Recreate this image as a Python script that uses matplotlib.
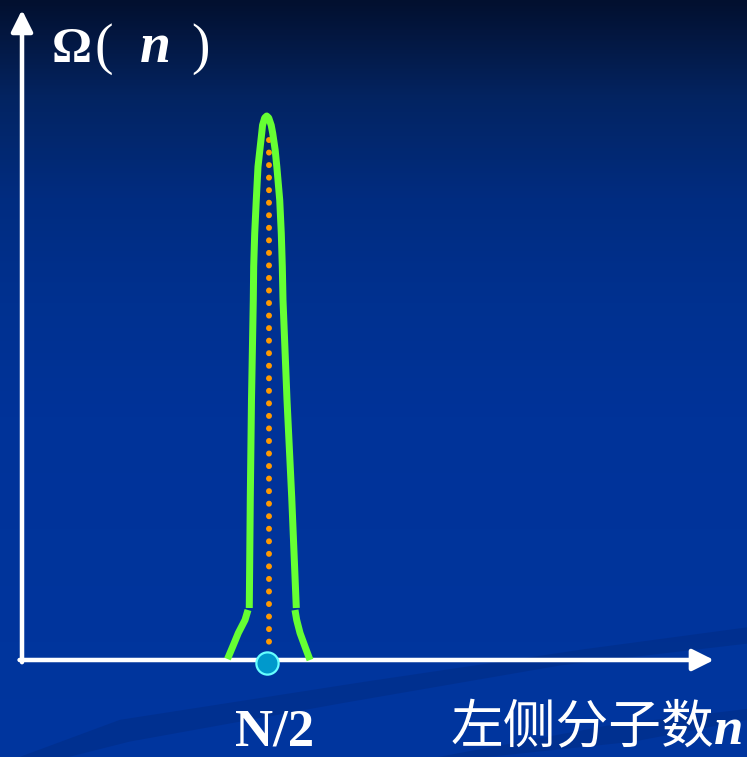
import numpy as np
import matplotlib
matplotlib.use('Agg')
import matplotlib.pyplot as plt
from matplotlib.colors import LinearSegmentedColormap
from matplotlib.patches import Polygon

# curve readings: n in units of N/100, omega normalised to peak = 100
n_peak = [46.44, 46.65, 46.89, 47.26, 47.34, 47.55, 47.87, 48.22, 48.60, 48.98,
          49.15, 49.59, 50.0, 50.41, 50.92, 51.23, 51.73, 52.07, 52.66, 52.98,
          53.19, 53.33, 54.15, 55.11, 56.05]
omega_peak = [9.56, 29.96, 47.79, 66.18, 72.30, 78.44, 84.56, 90.68, 93.75, 96.82,
              98.30, 99.65, 100.0, 99.65, 98.30, 96.82, 93.75, 90.68, 84.56, 78.44,
              72.30, 66.18, 47.79, 29.96, 9.56]
n_left_tail = [46.18, 45.57, 44.20, 43.05, 41.99]
omega_left_tail = [9.19, 7.35, 4.96, 2.45, 0.18]
n_right_tail = [55.78, 56.13, 56.81, 57.83, 58.85]
omega_right_tail = [9.19, 7.35, 4.96, 2.45, 0.0]

n_half = 50.0
n_dotted = 50.5
dotted_range = [95.6, 1.8]
x_axis_end = 141.4
y_axis_end = 119.5

x_label = '左侧分子数'
half_label = 'N/2'

W, H = 747, 757
PX_X0, PX_Y0 = 22.0, 660.0      # pixel of the origin
SX, SY = 4.894, 5.44             # pixels per data unit

fig = plt.figure(figsize=(W / 100, H / 100), dpi=100)
ax = fig.add_axes([0, 0, 1, 1])
ax.set_xlim(-PX_X0 / SX, (W - PX_X0) / SX)
ax.set_ylim(-(H - PX_Y0) / SY, PX_Y0 / SY)
ax.axis('off')
xl = ax.get_xlim()
yl = ax.get_ylim()

# background gradient, dark at the top
cmap = LinearSegmentedColormap.from_list(
    'bg', [(0.0, '#02102F'), (0.07, '#041B4A'), (0.13, '#032462'),
           (0.26, '#012C80'), (0.4, '#003190'), (0.55, '#003399'),
           (1.0, '#00369F')])
grad = np.linspace(0, 1, 256).reshape(-1, 1)
ax.imshow(grad, cmap=cmap, aspect='auto', extent=[xl[0], xl[1], yl[0], yl[1]],
          origin='upper', zorder=0)

# faint swooshes at the bottom
sw = Polygon([(xl[0] + 4, yl[0]), (20, -11), (70, -4), (115, 2), (xl[1], 6),
              (xl[1], 3), (110, -1), (65, -8), (22, -15), (xl[0] + 14, yl[0])],
             closed=True, facecolor='#002A80', alpha=0.45, edgecolor='none', zorder=1)
ax.add_patch(sw)
sw2 = Polygon([(85, yl[0]), (120, -12), (xl[1], -9), (xl[1], -11), (125, -15), (95, yl[0])],
              closed=True, facecolor='#002A80', alpha=0.45, edgecolor='none', zorder=1)
ax.add_patch(sw2)

px = 72 / 100  # points per pixel

# axes arrows
arrow = dict(arrowstyle='-|>,head_length=1.3,head_width=0.65', color='white',
             lw=4.5 * px, mutation_scale=10, shrinkA=0, shrinkB=0)
ax.annotate('', xy=(x_axis_end, 0), xytext=(-0.5, 0), arrowprops=arrow, zorder=3)
ax.annotate('', xy=(0, y_axis_end), xytext=(0, -0.4), arrowprops=arrow, zorder=3)

# dotted centre line
ax.plot([n_dotted, n_dotted], dotted_range, color='#FF9900', lw=6 * px,
        linestyle=(0, (0.01, 2.08)), dash_capstyle='round', zorder=4)

green = '#66FF33'
ax.plot(n_peak, omega_peak, color=green, lw=7 * px, solid_joinstyle='round',
        solid_capstyle='butt', zorder=5)
ax.plot(n_left_tail, omega_left_tail, color=green, lw=7 * px,
        solid_joinstyle='round', solid_capstyle='butt', zorder=5)
ax.plot(n_right_tail, omega_right_tail, color=green, lw=7 * px,
        solid_joinstyle='round', solid_capstyle='butt', zorder=5)

ax.plot([n_half], [-0.5], 'o', ms=16, mfc='#0099CC', mec='#66FFFF', mew=1.6, zorder=6)


def place(x, y, s, **kw):
    fig.text(x / W, 1 - y / H, s, color='white', va='baseline', **kw)


serif = 'Liberation Serif'
place(52, 62, 'Ω', fontsize=36, family=serif, weight='bold')
place(94, 63, '(', fontsize=40, family=serif)
place(140, 62, 'n', fontsize=40, family=serif, weight='bold', style='italic')
place(191, 63, ')', fontsize=40, family=serif)

place(275, 745, half_label, fontsize=38, family=serif, weight='bold', ha='center')
place(451, 743, x_label, fontsize=38, family=['Noto Sans CJK SC', 'DejaVu Sans'])
place(714, 744, 'n', fontsize=38, family=serif, weight='bold', style='italic')

fig.savefig('out.png', dpi=100)
